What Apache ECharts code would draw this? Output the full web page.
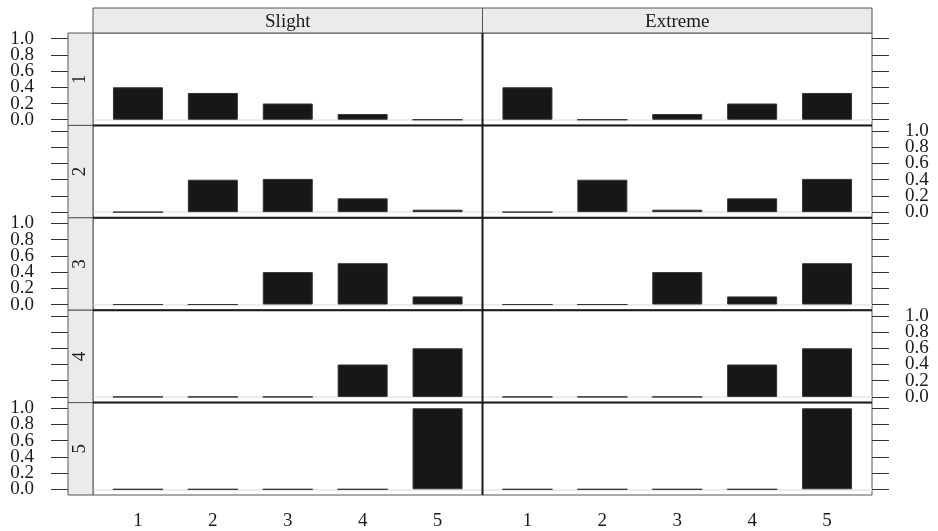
<!DOCTYPE html>
<html><head><meta charset="utf-8">
<script src="https://cdn.jsdelivr.net/npm/echarts@6/dist/echarts.min.js"></script>
<style>html,body{margin:0;padding:0;background:#fff}#c{width:938px;height:531px}</style>
</head><body><div id="c"></div>
<script>
// ---- data ----
const categories = ['1', '2', '3', '4', '5'];
const panels = ['Slight', 'Extreme'];
const rowLabels = ['1', '2', '3', '4', '5'];
const yTicks = [0, 0.2, 0.4, 0.6, 0.8, 1.0];

const slight1 = [0.40, 0.33, 0.20, 0.07, 0];
const slight2 = [0, 0.40, 0.41, 0.17, 0.03];
const slight3 = [0, 0, 0.40, 0.51, 0.10];
const slight4 = [0, 0, 0, 0.40, 0.60];
const slight5 = [0, 0, 0, 0, 1.00];

const extreme1 = [0.40, 0, 0.07, 0.20, 0.33];
const extreme2 = [0, 0.40, 0.03, 0.17, 0.41];
const extreme3 = [0, 0, 0.40, 0.10, 0.51];
const extreme4 = [0, 0, 0, 0.40, 0.60];
const extreme5 = [0, 0, 0, 0, 1.00];

const slightRows = [slight1, slight2, slight3, slight4, slight5];
const extremeRows = [extreme1, extreme2, extreme3, extreme4, extreme5];

// ---- layout ----
const FONT = '"Liberation Serif", "DejaVu Serif", serif';
const TXT = '#1a1a1a';
const gx = [93, 482.5];
const gw = 389.5;
const top0 = 33, rh = 92.4;
const stripW = 25;

const chart = echarts.init(document.getElementById('c'), null, {renderer: 'canvas'});
const grid = [], xAxis = [], yAxis = [], series = [], graphic = [];

// tick labels split into two interleaved sets so neighbouring labels never collide in the overlap check
const labelsA = yTicks.filter((_, k) => k % 2 === 0);
const labelsB = yTicks.filter((_, k) => k % 2 === 1);

panels.forEach((p, c) => {
  const rows = c === 0 ? slightRows : extremeRows;
  rowLabels.forEach((r, i) => {
    const idx = grid.length;
    grid.push({left: gx[c], top: top0 + i * rh, width: gw, height: rh, show: true,
      borderColor: '#555', borderWidth: 1, backgroundColor: 'transparent'});
    const bottom = i === rowLabels.length - 1;
    xAxis.push({gridIndex: idx, type: 'value', min: 0.4, max: 5.6,
      axisLine: {show: false}, axisTick: {show: false}, splitLine: {show: false},
      axisLabel: {show: bottom, customValues: categories.map((_, k) => k + 1),
        formatter: v => categories[Math.round(v) - 1],
        fontFamily: FONT, fontSize: 19, color: TXT, margin: 17}});
    const labelShow = c === 0 ? (i % 2 === 0) : (i % 2 === 1);
    const base = {gridIndex: idx, type: 'value', min: -0.07, max: 1.07,
      position: c === 0 ? 'left' : 'right', offset: c === 0 ? stripW : 0,
      axisLine: {show: false}, splitLine: {show: false}};
    const lbl = vals => ({show: labelShow, customValues: vals, formatter: v => v.toFixed(1),
      showMinLabel: true, showMaxLabel: true,
      margin: c === 0 ? 34 : 33, fontFamily: FONT, fontSize: 19, color: TXT});
    const yIdx = yAxis.length;
    yAxis.push(Object.assign({}, base, {
      axisTick: {show: true, customValues: yTicks, length: 17, inside: false, lineStyle: {color: '#333', width: 1}},
      axisLabel: lbl(labelsA)}));
    yAxis.push(Object.assign({}, base, {axisTick: {show: false}, axisLabel: lbl(labelsB)}));
    series.push({type: 'bar', xAxisIndex: idx, yAxisIndex: yIdx, barWidth: 50,
      data: rows[i].map((v, k) => [k + 1, v]),
      itemStyle: {color: '#171717', borderColor: '#333', borderWidth: 1},
      silent: true, animation: false,
      markLine: {silent: true, symbol: 'none', z: 1, animation: false, label: {show: false},
        lineStyle: {color: '#e6e6e6', width: 1.5, type: 'solid'}, data: [{yAxis: 0}]}});
    if (c === 0) {
      graphic.push({type: 'rect', z: 10, shape: {x: gx[0] - stripW, y: top0 + i * rh, width: stripW, height: rh},
        style: {fill: '#ebebeb', stroke: '#555', lineWidth: 1}});
      graphic.push({type: 'text', z: 11, x: gx[0] - stripW / 2, y: top0 + i * rh + rh / 2, rotation: Math.PI / 2,
        style: {text: r, font: '19px ' + FONT, fill: TXT, align: 'center', verticalAlign: 'middle'}});
    }
    if (i > 0 && c === 0) {
      graphic.push({type: 'line', z: 12, shape: {x1: gx[0], y1: top0 + i * rh, x2: gx[1] + gw, y2: top0 + i * rh},
        style: {stroke: '#1a1a1a', lineWidth: 2}});
    }
  });
  graphic.push({type: 'rect', z: 10, shape: {x: gx[c], y: 8, width: gw, height: top0 - 8},
    style: {fill: '#ebebeb', stroke: '#555', lineWidth: 1}});
  graphic.push({type: 'text', z: 11, x: gx[c] + gw / 2, y: 22,
    style: {text: p, font: '19px ' + FONT, fill: TXT, align: 'center', verticalAlign: 'middle'}});
});
graphic.push({type: 'line', z: 12, shape: {x1: gx[1], y1: top0, x2: gx[1], y2: top0 + rowLabels.length * rh},
  style: {stroke: '#1a1a1a', lineWidth: 2}});

chart.setOption({animation: false, backgroundColor: '#fff', grid, xAxis, yAxis, series, graphic});
</script></body></html>
